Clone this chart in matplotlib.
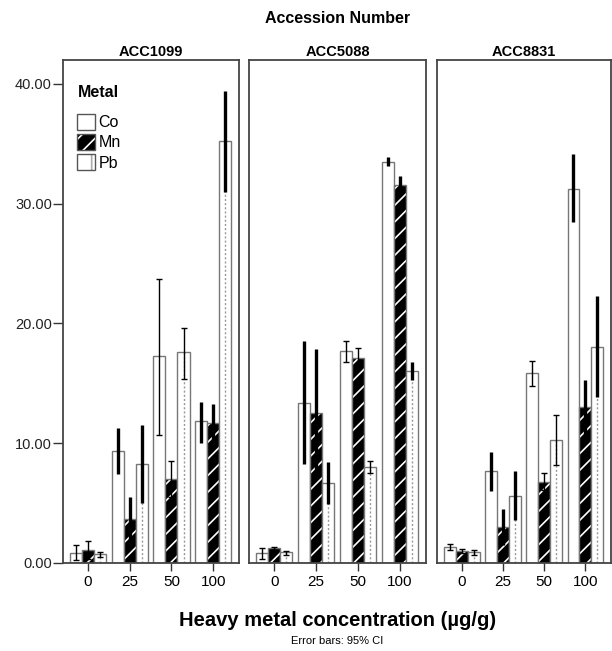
import numpy as np
import matplotlib
matplotlib.use("Agg")
import matplotlib.pyplot as plt
from matplotlib.patches import Patch

plt.rcParams['font.family'] = ['Liberation Sans', 'DejaVu Sans']
plt.rcParams['hatch.linewidth'] = 1.2

groups = ['0', '25', '50', '100']
accessions = ['ACC1099', 'ACC5088', 'ACC8831']
metals = ['Co', 'Mn', 'Pb']

# bar heights, rows = Co, Mn, Pb
acc1099_mean = [[0.85, 9.35, 17.25, 11.85],
                [1.08, 3.7, 7.0, 11.65],
                [0.72, 8.25, 17.6, 35.25]]
acc1099_low = [[0.25, 7.45, 10.7, 10.05],
               [0.32, 1.9, 5.5, 10.0],
               [0.5, 5.0, 15.4, 31.0]]
acc1099_high = [[1.5, 11.25, 23.7, 13.45],
                [1.84, 5.5, 8.55, 13.3],
                [0.95, 11.5, 19.6, 39.45]]

acc5088_mean = [[0.8, 13.4, 17.7, 33.5],
                [1.25, 12.55, 17.1, 31.6],
                [0.88, 6.65, 8.0, 16.0]]
acc5088_low = [[0.35, 8.3, 16.75, 33.15],
               [1.1, 7.25, 16.3, 30.95],
               [0.7, 4.9, 7.5, 15.25]]
acc5088_high = [[1.25, 18.5, 18.55, 33.9],
                [1.35, 17.85, 17.95, 32.3],
                [1.0, 8.45, 8.55, 16.8]]

acc8831_mean = [[1.35, 7.7, 15.9, 31.25],
                [1.03, 3.0, 6.8, 13.0],
                [0.88, 5.6, 10.25, 18.0]]
acc8831_low = [[1.1, 6.05, 14.8, 28.45],
               [0.85, 1.5, 6.1, 10.75],
               [0.7, 3.6, 8.2, 13.9]]
acc8831_high = [[1.6, 9.3, 16.9, 34.15],
                [1.15, 4.55, 7.5, 15.3],
                [1.1, 7.65, 12.35, 22.3]]

means = [acc1099_mean, acc5088_mean, acc8831_mean]
lows = [acc1099_low, acc5088_low, acc8831_low]
highs = [acc1099_high, acc5088_high, acc8831_high]

# error bar look per concentration group (thin with caps / thick)
err_lw = [1.0, 2.4, 1.0, 2.4]
err_cap = [2, 0, 2, 0]

edge = '#777777'
w = 0.29
offsets = [-w, 0, w]

fig = plt.figure(figsize=(6.12, 6.51), dpi=100)
lefts = [63, 249, 437]
widths = [176, 177, 174]

axes = []
for k, acc in enumerate(accessions):
    ax = fig.add_axes([lefts[k] / 612, 88 / 651, widths[k] / 612, 503 / 651])
    axes.append(ax)
    x = np.arange(len(groups))
    for m in range(3):
        xs = x + offsets[m]
        h = means[k][m]
        if metals[m] == 'Mn':
            ax.bar(xs, h, w, color='black', edgecolor='white', hatch='//', linewidth=0)
            ax.bar(xs, h, w, fill=False, edgecolor=edge, linewidth=1)
        else:
            ax.bar(xs, h, w, color='white', edgecolor=edge, linewidth=1)
            if metals[m] == 'Pb':
                ax.vlines(xs, 0, h, colors='#999999', linestyles=(0, (1.5, 1.5)), linewidth=1)
        for g in range(len(groups)):
            lo = h[g] - lows[k][m][g]
            hi = highs[k][m][g] - h[g]
            ax.errorbar(xs[g], h[g], yerr=[[lo], [hi]], fmt='none', ecolor='black',
                        elinewidth=err_lw[g], capsize=err_cap[g], capthick=1)
    ax.set_xlim(-0.6, 3.62)
    ax.set_ylim(0, 42)
    ax.set_xticks(x)
    ax.set_xticklabels(groups, fontsize=11)
    ax.tick_params(axis='x', length=6, width=1, pad=3, color='#333333')
    ax.set_title(acc, fontsize=10.5, fontweight='bold', pad=3)
    for s in ax.spines.values():
        s.set_color('#444444')
        s.set_linewidth(1.3)
    if k == 0:
        ax.set_yticks([0, 10, 20, 30, 40])
        ax.set_yticklabels(['0.00', '10.00', '20.00', '30.00', '40.00'],
                           fontsize=10.5, color='#222222')
        ax.tick_params(axis='y', length=7, width=1, pad=1, color='#333333')
    else:
        ax.set_yticks([])

handles = [Patch(facecolor='white', edgecolor='#555555'),
           (Patch(facecolor='black', edgecolor='white', hatch='//', linewidth=0),
            Patch(fill=False, edgecolor='#555555')),
           (Patch(facecolor='white', edgecolor='#aaaaaa', hatch='|', linewidth=0),
            Patch(fill=False, edgecolor='#555555'))]
axes[0].text(0.085, 0.935, 'Metal', transform=axes[0].transAxes, ha='left', va='center',
             fontsize=11.5, fontweight='bold')
leg = axes[0].legend(handles, metals, loc='upper left',
                     bbox_to_anchor=(0.035, 0.908), frameon=False, fontsize=11.5,
                     handlelength=1.1, handleheight=1.1, labelspacing=0.25,
                     handletextpad=0.25, borderpad=0)

fig.text(0.551, 0.972, 'Accession Number', ha='center', va='center',
         fontsize=11.5, fontweight='bold')
fig.text(0.551, 0.047, 'Heavy metal concentration (µg/g)', ha='center', va='center',
         fontsize=14.5, fontweight='bold')
fig.text(0.551, 0.015, 'Error bars: 95% CI', ha='center', va='center', fontsize=8)

fig.savefig('out.png', dpi=100)
